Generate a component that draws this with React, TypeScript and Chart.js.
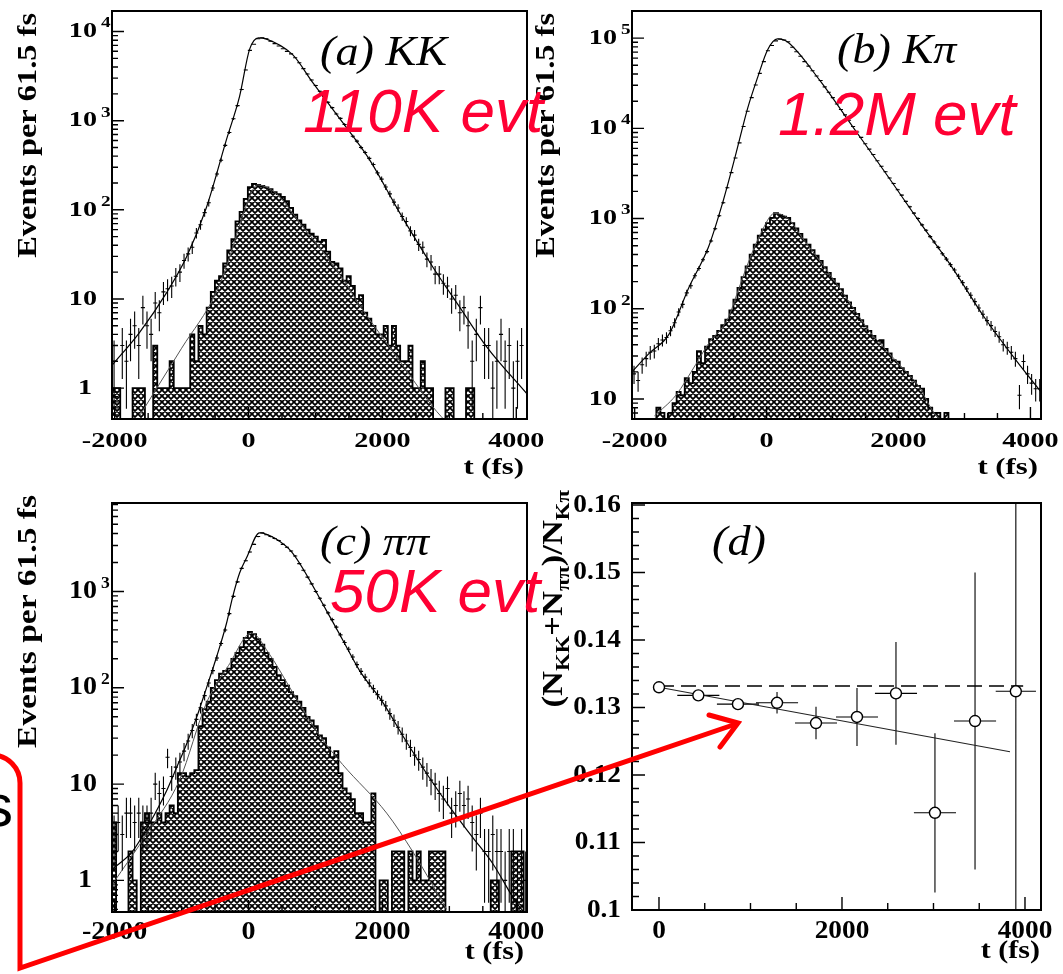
import React, { useEffect, useRef } from "react";
import { Chart, registerables } from "chart.js";

Chart.register(...registerables);

const PAGE_W = 1063;
const PAGE_H = 974;
const SERIF = '"Liberation Serif", "Times New Roman", Times, serif';
const SANS = '"Liberation Sans", Arial, Helvetica, sans-serif';

// Proper-time histograms: 61.5 fs bins starting at -2040 fs
const BIN_LO = -2040;
const BIN_W = 61.5;
const T_MIN = -2040;
const T_MAX = 4160;

// (a) D0 -> KK : events per bin, and the hatched background component
const kkData = [
  2, 0, 3, 2, 4, 5, 3, 8, 5, 4,
  9, 7, 12, 13, 14, 18, 20, 27, 32, 38,
  55, 68, 93, 120, 176, 252, 360, 528, 738, 1052,
  1475, 2235, 3710, 6140, 7210, 8290, 8510, 8300, 7790, 7320,
  6890, 6410, 5990, 5610, 5090, 4460, 3840, 3340, 2860, 2480,
  2140, 1870, 1610, 1400, 1190, 1060, 905, 785, 670, 590,
  500, 440, 378, 322, 260, 221, 180, 151, 122, 105,
  84, 74, 58, 52, 41, 38, 28, 26, 19, 19,
  15, 14, 10, 11, 7, 8, 5, 2, 4, 8,
  3, 3, 1, 2, 4, 2, 3, 1, 2, 3, 0,
];
const kkBkg = [
  1, 1, 0, 0, 0, 1, 1, 1, 0, 0,
  3, 1, 1, 1, 2, 1, 1, 1, 1, 4,
  2, 5, 4, 8, 12, 16, 18, 25, 35, 47,
  74, 95, 133, 180, 195, 190, 185, 178, 170, 158,
  150, 140, 125, 105, 88, 76, 68, 60, 54, 50,
  44, 46, 34, 26, 25, 22, 16, 18, 14, 10,
  11, 7, 6, 5, 4, 4, 5, 3, 5, 3,
  2, 2, 3, 1, 1, 2, 1, 1, 0, 0,
  0, 1, 1, 0, 0, 0, 1, 1, 0, 0,
  0, 0, 0, 0, 0, 0, 0, 0, 0, 0, 0,
];
const kkFitT = [-2040, -1630, -1226, -927, -628, -329, -135, 15, 150, 250, 658, 957, 1405, 1809, 2257, 2750, 3154, 3558, 4160];
const kkFitN = [1.8, 4.2, 11.7, 29.5, 107, 617, 1860, 6310, 8510, 8320, 5500, 2690, 955, 363, 93, 23, 8.1, 2.9, 0.86];
const kkBkgFitT = [-1620, -1000, -478, -300, -100, 50, 130, 300, 463, 807, 1061, 1405, 1659, 2063, 2407, 2750, 3000];
const kkBkgFitN = [0.5, 2.8, 12, 27, 80, 160, 190, 175, 140, 65, 38, 17, 8.5, 3.2, 1.4, 0.62, 0.38];

// (b) D0 -> K pi
const kpiData = [
  19, 16, 24, 28, 33, 34, 41, 45, 48, 57,
  70, 92, 112, 150, 180, 232, 280, 350, 430, 565,
  770, 1075, 1500, 2200, 3230, 4690, 6900, 10500, 15500, 21900,
  30200, 40700, 55000, 72400, 83000, 93300, 97700, 95500, 91200, 79400,
  70800, 63100, 55000, 49000, 43600, 38000, 33900, 28800, 25100, 21900,
  18600, 16200, 14100, 12300, 10500, 9120, 7940, 6760, 5890, 5130,
  4370, 3800, 3310, 2820, 2450, 2090, 1820, 1550, 1350, 1150,
  1000, 851, 741, 631, 550, 479, 407, 355, 309, 269,
  229, 195, 166, 141, 120, 102, 87, 74, 65, 56,
  49, 40, 37, 33, 28, 11, 26, 19, 15, 13, 13,
];
const kpiBkg = [
  0, 6, 0, 0, 0, 0, 8, 7, 6, 7,
  9, 12, 11, 17, 15, 20, 34, 25, 38, 46,
  50, 57, 66, 76, 96, 126, 170, 224, 295, 398,
  513, 646, 760, 890, 1020, 1150, 1100, 1050, 1020, 890,
  776, 676, 589, 513, 447, 389, 339, 290, 250, 215,
  190, 165, 140, 118, 102, 88, 75, 64, 57, 50,
  44, 45, 36, 32, 27, 26, 22, 20, 18, 16,
  14, 13, 10, 8, 7, 7, 0, 7, 0, 0,
  0, 0, 0, 0, 0, 0, 0, 0, 0, 0,
  0, 0, 0, 0, 0, 0, 0, 0, 0, 0, 0,
];
const kpiFitT = [-2040, -1780, -1480, -1181, -882, -688, -478, -284, -134, 15, 164, 314, 807, 1315, 1809, 2302, 2810, 3303, 3797, 4160];
const kpiFitN = [20, 32, 52, 170, 480, 1320, 4800, 17000, 37000, 74000, 98000, 91000, 34000, 10200, 3160, 955, 290, 80, 26, 12];
const kpiBkgFitT = [-1700, -1375, -1076, -882, -583, -433, -284, -90, 120, 314, 568, 807, 1061, 1315, 1555, 1809, 2063, 2302, 2511, 2750];
const kpiBkgFitN = [6.5, 11, 24, 41, 79, 158, 316, 680, 1140, 1020, 575, 340, 190, 102, 57, 35, 22, 14, 7.5, 4.5];

// (c) D0 -> pi pi
const pipiData = [
  3, 4, 3, 5, 5, 4, 5, 4, 4, 5,
  10, 8, 9, 19, 12, 15, 17, 22, 28, 36,
  47, 62, 83, 112, 151, 204, 288, 398, 589, 891,
  1260, 1740, 2090, 2570, 3090, 3720, 4070, 3890, 3720, 3550,
  3390, 3090, 2880, 2630, 2340, 1950, 1660, 1410, 1200, 1000,
  850, 720, 600, 510, 427, 355, 295, 251, 209, 174,
  148, 129, 112, 98, 85, 74, 65, 54, 46, 39,
  33, 28, 24, 20, 18, 15, 13, 11, 10, 8,
  7, 9, 5, 6, 8, 6, 7, 4, 3, 5,
  2, 2, 3, 2, 2, 1, 2, 2, 1, 2, 1,
];
const pipiBkg = [
  4, 0, 0, 0, 2, 1, 0, 4, 5, 4,
  4, 5, 4, 5, 6, 5, 13, 13, 12, 13,
  14, 40, 60, 72, 100, 120, 140, 150, 158, 200,
  230, 265, 330, 380, 360, 320, 280, 230, 200, 165,
  135, 120, 105, 90, 82, 72, 62, 50, 46, 40,
  32, 30, 24, 19, 22, 13, 9, 8, 7, 5,
  5, 4, 4, 8, 0, 1, 1, 0, 2, 2,
  2, 0, 2, 1, 2, 1, 1, 2, 2, 2,
  2, 0, 0, 0, 0, 0, 0, 0, 0, 0,
  0, 0, 1, 1, 0, 0, 0, 2, 2, 2, 0,
];
const pipiFitT = [-2040, -1734, -1480, -1226, -1076, -927, -777, -628, -478, -329, -239, -135, -30, 164, 400, 658, 1166, 1405, 1659, 2003, 2302, 2660, 3004, 3348, 3647, 4006, 4160];
const pipiFitN = [1.3, 2.0, 3.9, 8.5, 14.8, 26, 49, 100, 209, 468, 871, 1550, 2240, 4070, 3550, 2510, 630, 316, 151, 71, 32, 12.9, 5.8, 2.8, 1.5, 0.58, 0.43];
const pipiBkgFitT = [-2040, -1500, -1031, -628, -300, 45, 300, 658, 1061, 1405, 2063, 2451, 2960];
const pipiBkgFitN = [0.9, 3.2, 11, 70, 170, 370, 230, 90, 32, 16, 5, 2.0, 0.5];

// (d) (N_KK + N_pipi) / N_Kpi in proper-time slices
const ratioT = [0, 430, 863, 1290, 1716, 2164, 2590, 3016, 3454, 3900];
const ratioV = [0.133, 0.1318, 0.1305, 0.1307, 0.1277, 0.1286, 0.1321, 0.1144, 0.128, 0.1324];
const ratioTErr = [0, 230, 230, 230, 230, 230, 230, 230, 230, 220];
const ratioVErr = [0.0002, 0.0004, 0.0006, 0.0016, 0.0024, 0.0043, 0.0076, 0.0118, 0.022, 0.05];
const ratioFlatT = [0, 3980];
const ratioFlatV = [0.1332, 0.1332];
const ratioSlopeT = [0, 3836];
const ratioSlopeV = [0.133, 0.12345];

// Tick labels
const T_LABELS = [-2000, 0, 2000, 4000];
const RATIO_T_LABELS = [0, 2000, 4000];
const RATIO_Y_TICKS = [0.1, 0.11, 0.12, 0.13, 0.14, 0.15, 0.16];
const RATIO_Y_TEXT = ["0.1", "0.11", "0.12", "0.13", "0.14", "0.15", "0.16"];
const KK_DECADES = [0, 1, 2, 3, 4];
const KPI_DECADES = [1, 2, 3, 4, 5];
const PIPI_DECADES = [0, 1, 2, 3];

type Font = { size: number; sx: number; bold?: boolean; italic?: boolean; family?: string };

function fontStr(f: Font, size = f.size) {
  return `${f.italic ? "italic " : ""}${f.bold ? "bold " : ""}${size}px ${f.family || SERIF}`;
}

function drawText(
  ctx: CanvasRenderingContext2D, s: string, x: number, y: number, f: Font,
  align: CanvasTextAlign, baseline: CanvasTextBaseline = "middle", size?: number
) {
  ctx.save();
  ctx.translate(x, y);
  ctx.scale(f.sx, 1);
  ctx.font = fontStr(f, size ?? f.size);
  ctx.fillStyle = "#000";
  ctx.textAlign = align;
  ctx.textBaseline = baseline;
  ctx.fillText(s, 0, 0);
  ctx.restore();
}

type Run = { t: string; scale?: number; dy?: number };

// Rotated run of text pieces (with sub-scripts), ending at (x, y)
function drawRotatedRuns(ctx: CanvasRenderingContext2D, parts: Run[], x: number, y: number, f: Font) {
  ctx.save();
  ctx.translate(x, y);
  ctx.rotate(-Math.PI / 2);
  ctx.scale(f.sx, 1);
  ctx.textAlign = "left";
  ctx.textBaseline = "alphabetic";
  ctx.fillStyle = "#000";
  const widths = parts.map((p) => {
    ctx.font = fontStr(f, f.size * (p.scale || 1));
    return ctx.measureText(p.t).width;
  });
  let cx = -widths.reduce((a, b) => a + b, 0);
  parts.forEach((p, i) => {
    ctx.font = fontStr(f, f.size * (p.scale || 1));
    ctx.fillText(p.t, cx, p.dy || 0);
    cx += widths[i];
  });
  ctx.restore();
}

function crossHatch(): CanvasPattern {
  const c = document.createElement("canvas");
  c.width = 6;
  c.height = 6;
  const g = c.getContext("2d")!;
  g.fillStyle = "#fff";
  g.fillRect(0, 0, 6, 6);
  g.strokeStyle = "#000";
  g.lineWidth = 1.75;
  g.beginPath();
  for (const k of [-6, 0, 6]) {
    g.moveTo(-1 + k, -1);
    g.lineTo(7 + k, 7);
    g.moveTo(-1 + k, 7);
    g.lineTo(7 + k, -1);
  }
  g.stroke();
  return g.createPattern(c, "repeat")!;
}

// Error crosses for any dataset carrying errX / errY arrays
function errorBarsPlugin(layer: "before" | "after") {
  const draw = (chart: any) => {
    const { ctx, chartArea: a } = chart;
    const xs = chart.scales.x;
    const ys = chart.scales.y;
    const isLog = ys.type === "logarithmic";
    ctx.save();
    ctx.beginPath();
    ctx.rect(a.left, a.top, a.right - a.left, a.bottom - a.top);
    ctx.clip();
    ctx.strokeStyle = "#000";
    ctx.lineWidth = 1.1;
    ctx.beginPath();
    chart.data.datasets.forEach((ds: any) => {
      if (!ds.errX) return;
      ds.data.forEach((p: any, i: number) => {
        const ex = ds.errX[i];
        const ey = ds.errY[i];
        const px = xs.getPixelForValue(p.x);
        const py = ys.getPixelForValue(p.y);
        const lo = p.y - ey;
        const pLo = isLog && lo <= 0 ? a.bottom + 2 : ys.getPixelForValue(lo);
        const pHi = ys.getPixelForValue(p.y + ey);
        ctx.moveTo(px, pLo);
        ctx.lineTo(px, pHi);
        if (ex > 0) {
          ctx.moveTo(xs.getPixelForValue(p.x - ex), py);
          ctx.lineTo(xs.getPixelForValue(p.x + ex), py);
        }
      });
    });
    ctx.stroke();
    ctx.restore();
  };
  return layer === "before"
    ? { id: "errorBars", beforeDatasetsDraw: draw }
    : { id: "errorBars", afterDatasetsDraw: draw };
}

type HistPanel = {
  frame: [number, number, number, number];
  yMin: number;
  yMax: number;
  data: number[];
  bkg: number[];
  fitT: number[];
  fitN: number[];
  bkgFitT: number[];
  bkgFitN: number[];
  decades: number[];
  tickFont: Font;
  supSize: number;
  xLabDy: number;
  titleFont: Font;
  titleX: number;
  titleTop: number;
  tFont: Font;
  tDy: number;
  label: string;
  labelX: number;
  labelY: number;
};

const LABEL_FONT: Font = { size: 42, sx: 1.1, italic: true };

function histAxesPlugin(p: HistPanel) {
  return {
    id: "histAxes",
    afterDraw(chart: any) {
      const { ctx, chartArea: a } = chart;
      const xs = chart.scales.x;
      const ys = chart.scales.y;
      ctx.save();
      ctx.strokeStyle = "#000";
      ctx.lineWidth = 1.4;
      ctx.beginPath();
      for (let t = Math.ceil(T_MIN / 500) * 500; t <= T_MAX; t += 500) {
        const px = xs.getPixelForValue(t);
        const len = t % 2000 === 0 ? 12 : 6;
        ctx.moveTo(px, a.bottom);
        ctx.lineTo(px, a.bottom - len);
      }
      const dLo = Math.floor(Math.log10(p.yMin));
      const dHi = Math.ceil(Math.log10(p.yMax));
      for (let d = dLo; d <= dHi; d++) {
        for (let m = 1; m <= 9; m++) {
          const v = m * Math.pow(10, d);
          if (v < p.yMin || v > p.yMax) continue;
          const py = ys.getPixelForValue(v);
          ctx.moveTo(a.left, py);
          ctx.lineTo(a.left + (m === 1 ? 12 : 6), py);
        }
      }
      ctx.stroke();
      ctx.lineWidth = 2;
      ctx.strokeRect(a.left, a.top, a.right - a.left, a.bottom - a.top);

      T_LABELS.forEach((v) => {
        drawText(ctx, String(v), xs.getPixelForValue(v), a.bottom + p.xLabDy, p.tickFont, "center");
      });
      p.decades.forEach((d) => {
        const py = ys.getPixelForValue(Math.pow(10, d));
        const xr = a.left - 15;
        if (d === 0) {
          drawText(ctx, "1", xr - 5, py, p.tickFont, "right");
        } else {
          drawText(ctx, "10", xr, py, p.tickFont, "right");
          if (d > 1) drawText(ctx, String(d), xr + 4, py - 8, p.tickFont, "left", "middle", p.supSize);
        }
      });
      drawRotatedRuns(ctx, [{ t: "Events per 61.5 fs" }], p.titleX, p.titleTop, p.titleFont);
      drawText(ctx, "t (fs)", a.right - 3, a.bottom + p.tDy, p.tFont, "right");
      drawText(ctx, p.label, p.labelX, p.labelY, LABEL_FONT, "left", "alphabetic");
      ctx.restore();
    },
  };
}

function histConfig(p: HistPanel, hatch: CanvasPattern) {
  const [l, t, r, b] = p.frame;
  // step outline of the background histogram; empty bins sit on the floor
  const outline: { x: number; y: number }[] = [];
  p.bkg.forEach((v, i) => {
    const lo = BIN_LO + i * BIN_W;
    const y = v > 0 ? v : p.yMin;
    outline.push({ x: lo, y }, { x: lo + BIN_W, y });
  });
  const points: { x: number; y: number }[] = [];
  p.data.forEach((v, i) => {
    if (v > 0) points.push({ x: BIN_LO + (i + 0.5) * BIN_W, y: v });
  });
  const fit = p.fitT.map((x, i) => ({ x, y: p.fitN[i] }));
  const bkgFit = p.bkgFitT.map((x, i) => ({ x, y: p.bkgFitN[i] }));
  return {
    type: "line",
    data: {
      datasets: [
        {
          data: points,
          showLine: false,
          pointRadius: 0,
          errX: points.map(() => BIN_W / 2),
          errY: points.map((pt) => Math.sqrt(pt.y)),
          order: 1,
        },
        {
          data: fit,
          borderColor: "#000",
          borderWidth: 1.2,
          pointRadius: 0,
          cubicInterpolationMode: "monotone",
          fill: false,
          order: 2,
        },
        {
          data: bkgFit,
          borderColor: "#555",
          borderWidth: 1,
          pointRadius: 0,
          cubicInterpolationMode: "monotone",
          fill: false,
          order: 3,
        },
        {
          data: outline,
          borderColor: "#000",
          borderWidth: 1.8,
          backgroundColor: hatch,
          fill: "start",
          pointRadius: 0,
          tension: 0,
          order: 4,
        },
      ],
    },
    options: {
      responsive: false,
      animation: false,
      devicePixelRatio: 1,
      events: [],
      layout: { padding: { left: l, top: t, right: PAGE_W - r, bottom: PAGE_H - b } },
      plugins: { legend: { display: false }, tooltip: { enabled: false } },
      scales: {
        x: { type: "linear", display: false, min: T_MIN, max: T_MAX },
        y: { type: "logarithmic", display: false, min: p.yMin, max: p.yMax },
      },
    },
    plugins: [errorBarsPlugin("after"), histAxesPlugin(p)],
  };
}

const AB_TICK: Font = { size: 22, sx: 1.28, bold: true };
const CD_TICK: Font = { size: 25.5, sx: 1.1, bold: true };

const panelKK: HistPanel = {
  frame: [112, 11, 527, 419],
  yMin: 0.45,
  yMax: 17000,
  data: kkData,
  bkg: kkBkg,
  fitT: kkFitT,
  fitN: kkFitN,
  bkgFitT: kkBkgFitT,
  bkgFitN: kkBkgFitN,
  decades: KK_DECADES,
  tickFont: AB_TICK,
  supSize: 15,
  xLabDy: 22,
  titleFont: { size: 27, sx: 1.2, bold: true },
  titleX: 36,
  titleTop: 13,
  tFont: { size: 24, sx: 1.28, bold: true },
  tDy: 49,
  label: "(a) KK",
  labelX: 320,
  labelY: 65,
};

const panelKpi: HistPanel = {
  frame: [632, 11, 1041, 419],
  yMin: 6,
  yMax: 200000,
  data: kpiData,
  bkg: kpiBkg,
  fitT: kpiFitT,
  fitN: kpiFitN,
  bkgFitT: kpiBkgFitT,
  bkgFitN: kpiBkgFitN,
  decades: KPI_DECADES,
  tickFont: AB_TICK,
  supSize: 15,
  xLabDy: 22,
  titleFont: { size: 27, sx: 1.2, bold: true },
  titleX: 554,
  titleTop: 13,
  tFont: { size: 24, sx: 1.28, bold: true },
  tDy: 49,
  label: "(b) K\u03c0",
  labelX: 837,
  labelY: 63,
};

const panelPipi: HistPanel = {
  frame: [112, 503, 527, 912],
  yMin: 0.47,
  yMax: 8300,
  data: pipiData,
  bkg: pipiBkg,
  fitT: pipiFitT,
  fitN: pipiFitN,
  bkgFitT: pipiBkgFitT,
  bkgFitN: pipiBkgFitN,
  decades: PIPI_DECADES,
  tickFont: CD_TICK,
  supSize: 16,
  xLabDy: 20,
  titleFont: { size: 27, sx: 1.24, bold: true },
  titleX: 36,
  titleTop: 495,
  tFont: { size: 25, sx: 1.2, bold: true },
  tDy: 41,
  label: "(c) \u03c0\u03c0",
  labelX: 320,
  labelY: 555,
};

const RATIO_FRAME: [number, number, number, number] = [632, 503, 1041, 910];
const RATIO_T_MIN = -295;
const RATIO_T_MAX = 4175;
const RATIO_Y_MIN = 0.1;
const RATIO_Y_MAX = 0.1603;

const ratioAxesPlugin = {
  id: "ratioAxes",
  afterDraw(chart: any) {
    const { ctx, chartArea: a } = chart;
    const xs = chart.scales.x;
    const ys = chart.scales.y;
    ctx.save();
    ctx.strokeStyle = "#000";
    ctx.lineWidth = 1.4;
    ctx.beginPath();
    for (let t = 0; t <= RATIO_T_MAX; t += 500) {
      const px = xs.getPixelForValue(t);
      const len = t % 2000 === 0 ? 13 : 7;
      ctx.moveTo(px, a.bottom);
      ctx.lineTo(px, a.bottom - len);
    }
    for (let k = 0; k <= 30; k++) {
      const v = RATIO_Y_MIN + k * 0.002;
      const py = ys.getPixelForValue(v);
      ctx.moveTo(a.left, py);
      ctx.lineTo(a.left + (k % 5 === 0 ? 13 : 7), py);
    }
    ctx.stroke();
    ctx.lineWidth = 2;
    ctx.strokeRect(a.left, a.top, a.right - a.left, a.bottom - a.top);

    const f: Font = { size: 26, sx: 1.05, bold: true };
    RATIO_T_LABELS.forEach((v) => {
      drawText(ctx, String(v), xs.getPixelForValue(v), a.bottom + 21, f, "center");
    });
    RATIO_Y_TICKS.forEach((v, i) => {
      drawText(ctx, RATIO_Y_TEXT[i], a.left - 11, ys.getPixelForValue(v), f, "right");
    });
    drawRotatedRuns(
      ctx,
      [
        { t: "(N" },
        { t: "KK", scale: 0.66, dy: 7 },
        { t: "+N" },
        { t: "\u03c0\u03c0", scale: 0.66, dy: 7 },
        { t: ")/N" },
        { t: "K\u03c0", scale: 0.66, dy: 7 },
      ],
      562,
      490,
      { size: 30, sx: 1.15, bold: true }
    );
    drawText(ctx, "t (fs)", a.right - 1, a.bottom + 42, { size: 25, sx: 1.2, bold: true }, "right");
    drawText(ctx, "(d)", 712, 555, LABEL_FONT, "left", "alphabetic");
    ctx.restore();
  },
};

function ratioConfig() {
  const [l, t, r, b] = RATIO_FRAME;
  const pts = ratioT.map((x, i) => ({ x, y: ratioV[i] }));
  return {
    type: "line",
    data: {
      datasets: [
        {
          data: pts,
          showLine: false,
          pointRadius: 5.5,
          pointBackgroundColor: "#fff",
          pointBorderColor: "#000",
          pointBorderWidth: 1.4,
          errX: ratioTErr,
          errY: ratioVErr,
          order: 0,
        },
        {
          data: ratioSlopeT.map((x, i) => ({ x, y: ratioSlopeV[i] })),
          borderColor: "#222",
          borderWidth: 1.1,
          pointRadius: 0,
          fill: false,
          order: 1,
        },
        {
          data: ratioFlatT.map((x, i) => ({ x, y: ratioFlatV[i] })),
          borderColor: "#000",
          borderWidth: 1.5,
          borderDash: [15, 7],
          pointRadius: 0,
          fill: false,
          order: 2,
        },
      ],
    },
    options: {
      responsive: false,
      animation: false,
      devicePixelRatio: 1,
      events: [],
      layout: { padding: { left: l, top: t, right: PAGE_W - r, bottom: PAGE_H - b } },
      plugins: { legend: { display: false }, tooltip: { enabled: false } },
      scales: {
        x: { type: "linear", display: false, min: RATIO_T_MIN, max: RATIO_T_MAX },
        y: { type: "linear", display: false, min: RATIO_Y_MIN, max: RATIO_Y_MAX },
      },
    },
    plugins: [errorBarsPlugin("before"), ratioAxesPlugin],
  };
}

function ChartLayer({ build }: { build: () => any }) {
  const ref = useRef<HTMLCanvasElement>(null);
  useEffect(() => {
    if (!ref.current) return;
    const chart = new Chart(ref.current, build());
    return () => chart.destroy();
  }, [build]);
  return (
    <canvas
      ref={ref}
      width={PAGE_W}
      height={PAGE_H}
      style={{ position: "absolute", left: 0, top: 0, width: PAGE_W, height: PAGE_H }}
    />
  );
}

const buildKK = () => histConfig(panelKK, crossHatch());
const buildKpi = () => histConfig(panelKpi, crossHatch());
const buildPipi = () => histConfig(panelPipi, crossHatch());
const buildRatio = () => ratioConfig();

const NOTE_RED = "#ff0033";

export default function App() {
  return (
    <div
      style={{
        position: "absolute",
        left: 0,
        top: 0,
        width: PAGE_W,
        height: PAGE_H,
        background: "#fff",
        overflow: "hidden",
      }}
    >
      <ChartLayer build={buildKK} />
      <ChartLayer build={buildKpi} />
      <ChartLayer build={buildPipi} />
      <ChartLayer build={buildRatio} />
      <svg
        width={PAGE_W}
        height={PAGE_H}
        style={{ position: "absolute", left: 0, top: 0 }}
      >
        <g fill={NOTE_RED} fontFamily={SANS} fontStyle="italic" fontSize={62}>
          <text x={303} y={132}>110K evt</text>
          <text x={778} y={135}>1.2M evt</text>
          <text x={330} y={612}>50K evt</text>
        </g>
        <text x={13} y={826} textAnchor="end" fontFamily={SANS} fontSize={60} fill="#000">
          s
        </text>
        <path
          d="M -40 755 H -8 A 28 28 0 0 1 20 783 V 968 L 736 724"
          fill="none"
          stroke="#ff0000"
          strokeWidth={5}
          strokeLinejoin="miter"
        />
        <path
          d="M 709 715 L 738 723 L 720 747"
          fill="none"
          stroke="#ff0000"
          strokeWidth={5}
          strokeLinecap="round"
          strokeLinejoin="miter"
        />
      </svg>
    </div>
  );
}
